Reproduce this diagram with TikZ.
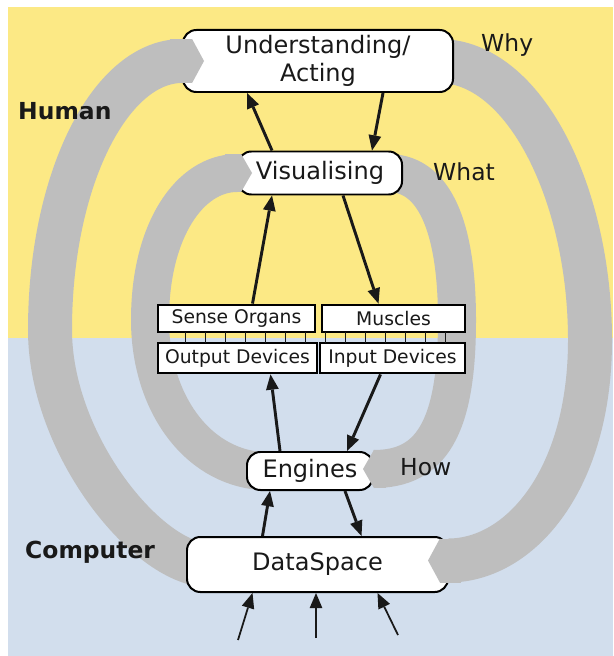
\documentclass[tikz,border=0pt]{standalone}
\usepackage{fontspec}
\setmainfont{DejaVu Sans}
\usetikzlibrary{
    arrows.meta,
    calc
}
\pgfdeclarelayer{back}
\pgfsetlayers{back,main}
\definecolor{humanbg}{RGB}{252,233,133}
\definecolor{computerbg}{RGB}{210,222,237}
\definecolor{loopgray}{RGB}{190,190,190}
\definecolor{ink}{RGB}{25,25,25}
\tikzset {
    stage/.style = {
        draw, line width = 1.7pt, rounded corners = 0.4cm,
        fill = white, text = ink, inner sep = 0pt,
        font = \fontsize{20.5}{24}\selectfont
    },
    organ/.style = {
        draw, line width = 2.4pt, fill = white, text = ink,
        inner sep = 0pt, minimum height = 0.81cm,
        font = \fontsize{16}{19}\selectfont
    },
    side label/.style = {
        anchor = base west, inner sep = 0pt, text = ink,
        font = \fontsize{20}{24}\selectfont
    },
    realm label/.style = {
        side label, font = \fontsize{20}{24}\selectfont\bfseries
    },
    %
    outer loop/.style = {draw = loopgray, line width = 1.32cm},
    inner loop/.style = {draw = loopgray, line width = 1.14cm},
    outer tip/.style = {
        outer loop,
        arrows = {-Triangle[length = 0.36cm, width = 1.33cm, line width = 0pt]}
    },
    inner tip/.style = {
        inner loop,
        arrows = {-Triangle[length = 0.33cm, width = 1.15cm, line width = 0pt]}
    },
    flow/.style = {
        draw = ink, line width = 2.5pt,
        arrows = {-Triangle[length = 13pt, width = 11pt, line width = 0pt]}
    },
    feed/.style = {flow, line width = 1.5pt},
    rung/.style = {draw = ink, line width = 0.8pt}
}

\begin{document}
\begin{tikzpicture}[x = 0.03cm, y = -0.03cm]
    \useasboundingbox (0, 0) rectangle (613, 656);

    \node (und) [stage, minimum width = 8.1cm, minimum height = 1.86cm,
        align = center] at (318, 61) {Understanding/\\Acting};
    \node (vis) [stage, minimum width = 4.92cm, minimum height = 1.29cm]
        at (320, 173) {Visualising};
    \node (sense) [organ, minimum width = 4.71cm] at (236.5, 318.5) {Sense Organs};
    \node (musc) [organ, minimum width = 4.29cm] at (393.5, 318.5) {Muscles};
    \node (outdev) [organ, minimum width = 4.77cm, minimum height = 0.9cm]
        at (237.5, 358) {Output Devices};
    \node (indev) [organ, minimum width = 4.35cm, minimum height = 0.9cm]
        at (392.5, 358) {Input Devices};
    \node (eng) [stage, minimum width = 3.78cm, minimum height = 1.14cm]
        at (310, 471) {Engines};
    \node (data) [stage, minimum width = 7.83cm, minimum height = 1.65cm]
        at (317.5, 564.5) {DataSpace};

    \begin{pgfonlayer}{back}
        \fill [humanbg] (8, 7) rectangle (613, 338);
        \fill [computerbg] (8, 338) rectangle (613, 656);
        % outer loop
        \draw [outer loop] ($(data.west) + (15, 0)$)
            .. controls (140, 555) and (50, 440) .. (50, 330)
            .. controls (50, 180) and (110, 61) .. (und.west);
        \draw [outer loop] ($(und.east) + (-15, 0)$)
            .. controls (525, 61) and (590, 195) .. (590, 340)
            .. controls (590, 480) and (520, 560) .. ($(data.east) + (0, -4)$);
        % inner loop
        \draw [inner loop] ($(eng.west) + (15, 0)$)
            .. controls (195, 466) and (150, 400) .. (150, 320)
            .. controls (150, 230) and (190, 173) .. (vis.west);
        \draw [inner loop] ($(vis.east) + (-15, 0)$)
            .. controls (440, 173) and (457, 240) .. (457, 320)
            .. controls (457, 430) and (430, 469) .. ($(eng.east) + (0, -2)$);
    \end{pgfonlayer}

    \draw [outer tip] ($(und.west) + (-12, 0)$) -- ($(und.west) + (22, 0)$);
    \draw [outer tip] ($(data.east) + (12, -4)$) -- ($(data.east) + (-21, -4)$);
    \draw [inner tip] ($(vis.west) + (-12, 0)$) -- ($(vis.west) + (15, 0)$);
    \draw [inner tip] ($(eng.east) + (12, -2)$) -- ($(eng.east) + (-11, -2)$);

    \foreach \x in {185, 205, ..., 445}
        \draw [rung] (\x, 332) -- (\x, 343);

    \draw [flow] ($(vis.north) + (-48, 0)$) -- ($(und.south) + (-71, 0)$);
    \draw [flow] ($(und.south) + (65, 0)$) -- ($(vis.north) + (52, 0)$);
    \draw [flow] ($(sense.north) + (16, 0)$) -- ($(vis.south) + (-48, 0)$);
    \draw [flow] ($(vis.south) + (23, 0)$) -- ($(musc.north) + (-15, 0)$);
    \draw [flow] ($(eng.north) + (-30, 0)$) -- ($(outdev.south) + (33, 0)$);
    \draw [flow] ($(indev.south) + (-12, 0)$) -- ($(eng.north) + (37, 0)$);
    \draw [flow] ($(data.north) + (-55, 0)$) -- ($(eng.south) + (-40, 0)$);
    \draw [flow] ($(eng.south) + (35, 0)$) -- ($(data.north) + (44, 0)$);

    \coordinate (in a) at (238, 640);
    \coordinate (in b) at (316, 638);
    \coordinate (in c) at (398, 635);
    \draw [feed] (in a) -- ($(data.south) + (-65, 0)$);
    \draw [feed] (in b) -- ($(data.south) + (-1.5, 0)$);
    \draw [feed] (in c) -- ($(data.south) + (60, 0)$);

    \node (why) [side label] at (481, 52) {Why};
    \node (what) [side label] at (433, 181) {What};
    \node (how) [side label] at (400, 475) {How};
    \node (human) [realm label] at (18, 120) {Human};
    \node (computer) [realm label] at (25, 558) {Computer};
\end{tikzpicture}
\end{document}
